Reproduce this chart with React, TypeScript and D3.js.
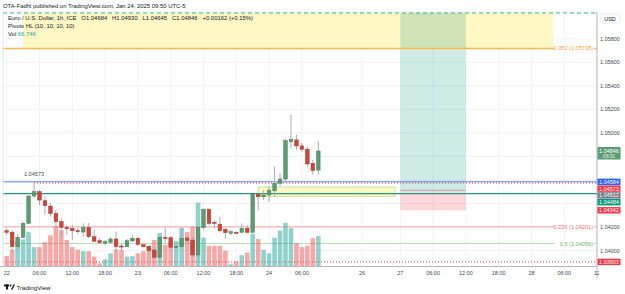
import React from 'react';
import * as d3 from 'd3';

// EURUSD 1h bars, Jan 22 00:00 -> Jan 24 09:00
const opens = [
  1.04168, 1.04155, 1.04032, 1.04112, 1.04231, 1.04463, 1.045, 1.04423, 1.04378, 1.04316,
  1.04245, 1.04197, 1.04189, 1.04168, 1.04157, 1.04197, 1.04117, 1.04083, 1.04061, 1.0407,
  1.04098, 1.04038, 1.04032, 1.04081, 1.04104, 1.04049, 1.04032, 1.04004, 1.03942, 1.04112,
  1.04109, 1.04031, 1.04032, 1.04106, 1.04089, 1.03962, 1.04194, 1.0435, 1.0424, 1.04223,
  1.0418, 1.04146, 1.04154, 1.04155, 1.04189, 1.04155, 1.04478, 1.04457, 1.04472, 1.04508,
  1.04571, 1.04608, 1.04925, 1.0494, 1.04889, 1.04861, 1.04741, 1.04684,
];
const highs = [
  1.04191, 1.04174, 1.0414, 1.04245, 1.04472, 1.04573, 1.04514, 1.04457, 1.04404, 1.04344,
  1.04274, 1.04217, 1.04217, 1.04191, 1.04231, 1.04234, 1.04174, 1.04104, 1.04089, 1.04117,
  1.0416, 1.04061, 1.04098, 1.04132, 1.04117, 1.04055, 1.04047, 1.04032, 1.04123, 1.04202,
  1.04123, 1.04047, 1.04189, 1.04117, 1.04117, 1.04208, 1.04361, 1.04361, 1.04259, 1.04287,
  1.04191, 1.04174, 1.04162, 1.04231, 1.04217, 1.04489, 1.04486, 1.04514, 1.04543, 1.04713,
  1.04656, 1.04946, 1.05152, 1.04982, 1.04912, 1.04883, 1.0477, 1.0493,
];
const lows = [
  1.04132, 1.03981, 1.04004, 1.04106, 1.04225, 1.04446, 1.04387, 1.04302, 1.04287, 1.04202,
  1.04117, 1.04132, 1.04089, 1.0414, 1.04117, 1.04106, 1.04075, 1.04055, 1.04047, 1.04055,
  1.03976, 1.04004, 1.04027, 1.04075, 1.04038, 1.04027, 1.03962, 1.03934, 1.03934, 1.04061,
  1.04021, 1.04019, 1.04021, 1.04075, 1.03945, 1.03903, 1.04174, 1.04217, 1.04191, 1.0416,
  1.04098, 1.04132, 1.0414, 1.04146, 1.04146, 1.04146, 1.04342, 1.04429, 1.04415, 1.04457,
  1.04548, 1.04585, 1.04869, 1.04855, 1.0484, 1.04713, 1.04642, 1.04645,
];
const closes = [
  1.04155, 1.04032, 1.04112, 1.04231, 1.04463, 1.045, 1.04429, 1.04381, 1.04316, 1.04245,
  1.04197, 1.04185, 1.04168, 1.0416, 1.04197, 1.04117, 1.04078, 1.04066, 1.04075, 1.04098,
  1.04032, 1.04032, 1.04083, 1.04104, 1.04053, 1.04032, 1.03998, 1.03942, 1.04112, 1.04108,
  1.04027, 1.04034, 1.04104, 1.04087, 1.03962, 1.04197, 1.0435, 1.04231, 1.04235, 1.04168,
  1.04151, 1.0416, 1.0415, 1.04189, 1.04155, 1.04484, 1.04457, 1.04472, 1.04514, 1.04571,
  1.04608, 1.04934, 1.04946, 1.04889, 1.04861, 1.04736, 1.04679, 1.04846,
];
// volume in thousands
const volumes = [
  22, 36, 56, 59, 76, 42, 42, 53, 68, 89,
  80, 58, 42, 36, 33, 33, 21, 6, 15, 28,
  37, 36, 21, 22, 28, 33, 45, 58, 73, 47,
  54, 56, 85, 76, 87, 141, 63, 45, 45, 45,
  34, 4, 10, 24, 30, 71, 60, 36, 28, 63,
  79, 96, 84, 51, 42, 45, 62, 66.74,
];

const timeSlots = [0, 6, 12, 18, 24, 30, 36, 42, 48, 54, 65, 72, 78, 84, 90, 96, 102, 108];
const timeLabels = ['22', '06:00', '12:00', '18:00', '23', '06:00', '12:00', '18:00', '24', '06:00', '26', '27', '06:00', '12:00', '18:00', '28', '06:00', '12'];

const priceTicks = [1.058, 1.056, 1.054, 1.052, 1.05, 1.042, 1.04];
const gridPrices = [1.058, 1.056, 1.054, 1.052, 1.05, 1.048, 1.046, 1.044, 1.042, 1.04];

const tagPrices = [1.04584, 1.04573, 1.04512, 1.04484, 1.04342, 1.03903];
const tagColors = ['#2962ff', '#f23645', '#787b86', '#089981', '#f23645', '#f23645'];

const fibPrices = [1.05718, 1.04201, 1.04059];
const fibLabels = ['0.382 (1.05718)', '0.236 (1.04201)', '0.5 (1.04059)'];
const fibColors = ['#ffb74d', '#f7a1a4', '#b7dcb3'];
const fibTextColors = ['#f7a43a', '#ef6f76', '#6fb36a'];

const fibZone = [3, 100, 1.0602, 1.05718]; // from slot, to slot, top, bottom
const demandZone = [46, 71, 1.0454, 1.04461];
const position = [72, 84, 1.0602, 1.04512, 1.04342]; // slots, target, entry, stop

const lastPrice = 1.04846;
const pivotHigh = 1.04573;

const font = '"Liberation Sans", Arial, sans-serif';
const L = 3, R = 597, T = 12, B = 266;

export default function App() {
  const x = d3.scaleLinear().domain([0, 108]).range([6.7, 597.1]);
  const y = d3.scaleLinear().domain([1.04, 1.058]).range([250.5, 38.8]);
  const v = d3.scaleLinear().domain([0, 66.74]).range([B, 236]);
  const fmt = d3.format('.5f');

  const up = '#5c9c73', upLine = '#437f59';
  const dn = '#d0453b', dnLine = '#a3332b';

  // stack price tags so they do not overlap
  let prev = -Infinity;
  const tags = tagPrices.map((p, i) => {
    const ty = Math.max(y(p), prev + 6.8);
    prev = ty;
    return { p, ty, color: tagColors[i] };
  });

  return (
    <svg width={625} height={294} style={{ position: 'absolute', left: 0, top: 0, background: '#fff' }} fontFamily={font}>
      <defs>
        <clipPath id="pane"><rect x={L} y={T} width={R - L} height={B - T} /></clipPath>
        <clipPath id="taxis"><rect x={0} y={B} width={R + 2} height={20} /></clipPath>
      </defs>

      <text x={3} y={8} fontSize={5.9} fill="#131722">OTA-Fadhl published on TradingView.com, Jan 24, 2025 09:50 UTC-5</text>

      <g clipPath="url(#pane)">
        {/* grid */}
        {timeSlots.map((s, i) => (
          <line key={'vg' + i} x1={x(s)} x2={x(s)} y1={T} y2={B} stroke="#f0f3fa" strokeWidth={1} />
        ))}
        {gridPrices.map((p, i) => (
          <line key={'hg' + i} x1={L} x2={R} y1={y(p)} y2={y(p)} stroke="#f0f3fa" strokeWidth={1} />
        ))}

        {/* fib zone */}
        <rect x={x(fibZone[0])} y={y(fibZone[2])} width={x(fibZone[1]) - x(fibZone[0])} height={y(fibZone[3]) - y(fibZone[2])} fill="#fff7c4" />

        {/* long position */}
        <rect x={x(position[0])} y={y(position[2])} width={x(position[1]) - x(position[0])} height={y(position[3]) - y(position[2])} fill="rgba(8,153,129,0.2)" />
        <rect x={x(position[0])} y={y(position[3])} width={x(position[1]) - x(position[0])} height={y(position[4]) - y(position[3])} fill="rgba(242,54,69,0.2)" />
        <line x1={x(position[0])} x2={x(position[1])} y1={y(position[3])} y2={y(position[3])} stroke="#9aa0a6" strokeWidth={0.8} />

        {/* demand zone */}
        <rect x={x(demandZone[0])} y={y(demandZone[2])} width={x(demandZone[1]) - x(demandZone[0])} height={y(demandZone[3]) - y(demandZone[2])} fill="rgba(255,235,59,0.3)" stroke="#c5e1a5" strokeWidth={1} />

        {/* horizontal levels */}
        <line x1={L} x2={R} y1={y(fibZone[2])} y2={y(fibZone[2])} stroke="#26a69a" strokeWidth={1} strokeDasharray="4,3" />
        {fibPrices.map((p, i) => (
          <line key={'fl' + i} x1={L} x2={R} y1={y(p)} y2={y(p)} stroke={fibColors[i]} strokeWidth={i === 0 ? 1.5 : 1} />
        ))}
        <line x1={L} x2={R} y1={y(1.04584)} y2={y(1.04584)} stroke="#5b7fe6" strokeWidth={1} />
        <line x1={x(5)} x2={R} y1={y(pivotHigh)} y2={y(pivotHigh)} stroke="#f23645" strokeWidth={1} strokeDasharray="1,2" />
        <line x1={L} x2={R} y1={y(1.04484)} y2={y(1.04484)} stroke="#1f9a86" strokeWidth={1.3} />
        <line x1={L} x2={R} y1={y(1.03903)} y2={y(1.03903)} stroke="#f23645" strokeWidth={1} strokeDasharray="1,2" />

        {/* volume */}
        {volumes.map((vol, i) => (
          <rect key={'v' + i} x={x(i) - 2.3} y={v(vol)} width={4.6} height={B - v(vol)}
            fill={closes[i] >= opens[i] ? 'rgba(38,166,154,0.5)' : 'rgba(239,83,80,0.5)'} />
        ))}

        {/* candles */}
        {opens.map((o, i) => {
          const c = closes[i];
          const isUp = c >= o;
          const top = y(Math.max(o, c));
          const h = Math.max(1, y(Math.min(o, c)) - top);
          return (
            <g key={'c' + i}>
              <line x1={x(i)} x2={x(i)} y1={y(highs[i])} y2={y(lows[i])} stroke="#a9acb2" strokeWidth={1} />
              <rect x={x(i) - 1.8} y={top} width={3.6} height={h} fill={isUp ? up : dn} stroke={isUp ? upLine : dnLine} strokeWidth={0.5} />
            </g>
          );
        })}

        <text x={x(5)} y={y(pivotHigh) - 7} fontSize={5.6} fill="#434651" textAnchor="middle">{fmt(pivotHigh)}</text>

        {/* fib labels */}
        {fibPrices.map((p, i) => (
          <g key={'fb' + i}>
            <rect x={554} y={y(p) - 3.5} width={40} height={7} fill="#fff" />
            <text x={593} y={y(p) + 2} fontSize={5.6} fill={fibTextColors[i]} textAnchor="end">{fibLabels[i]}</text>
          </g>
        ))}
      </g>

      {/* legend */}
      <text x={8} y={20} fontSize={5.9} fill="#131722" xmlSpace="preserve">Euro / U.S. Dollar, 1h, ICE   O1.04684   H1.04930   L1.04645   C1.04846   +0.00162 (+0.15%)</text>
      <text x={8} y={28} fontSize={5.9} fill="#131722">Pivots HL (10, 10, 10, 10)</text>
      <text x={8} y={35.5} fontSize={5.9} fill="#131722">Vol <tspan fill="#26a69a">66.74K</tspan></text>

      {/* pane borders */}
      <line x1={L} x2={L} y1={T} y2={B} stroke="#e0e3eb" strokeWidth={1} />
      <line x1={L} x2={R} y1={T} y2={T} stroke="#e0e3eb" strokeWidth={0.6} />
      <line x1={0} x2={R} y1={B + 0.5} y2={B + 0.5} stroke="#b2b5be" strokeWidth={1} />
      <line x1={R} x2={R} y1={T} y2={278} stroke="#b2b5be" strokeWidth={1} />

      {/* time axis */}
      <g clipPath="url(#taxis)">
        {timeSlots.map((s, i) => (
          <text key={'t' + i} x={x(s)} y={274.5} fontSize={5.5} fill="#434651" textAnchor="middle">{timeLabels[i]}</text>
        ))}
      </g>

      {/* price axis */}
      <rect x={600} y={14} width={20} height={9} rx={2} fill="#fff" stroke="#e0e3eb" strokeWidth={0.8} />
      <text x={610} y={20.5} fontSize={5.5} fill="#131722" textAnchor="middle">USD</text>
      {priceTicks.map((p, i) => (
        <text key={'pt' + i} x={610} y={y(p) + 2} fontSize={5.5} fill="#434651" textAnchor="middle">{fmt(p)}</text>
      ))}

      <rect x={597.5} y={y(lastPrice) - 4} width={23} height={12.5} fill="#5c9c73" />
      <text x={609} y={y(lastPrice) + 2} fontSize={5.5} fill="#fff" textAnchor="middle">{fmt(lastPrice)}</text>
      <text x={609} y={y(lastPrice) + 7.2} fontSize={4.8} fill="#e8f3ec" textAnchor="middle">09:01</text>

      {tags.map((t, i) => (
        <g key={'tag' + i}>
          <rect x={597.5} y={t.ty - 3.2} width={23} height={6.4} fill={t.color} />
          <text x={609} y={t.ty + 2} fontSize={5.5} fill="#fff" textAnchor="middle">{fmt(t.p)}</text>
        </g>
      ))}

      {/* logo */}
      <g fill="#131722">
        <rect x={4} y={284.5} width={5} height={2} />
        <rect x={6} y={284.5} width={2} height={5} />
        <circle cx={10.5} cy={285.5} r={1} />
        <path d="M11,289.5 L13.5,284.5 L15,284.5 L12.5,289.5 Z" />
      </g>
      <text x={16.5} y={289.5} fontSize={6.2} fill="#131722">TradingView</text>
    </svg>
  );
}
